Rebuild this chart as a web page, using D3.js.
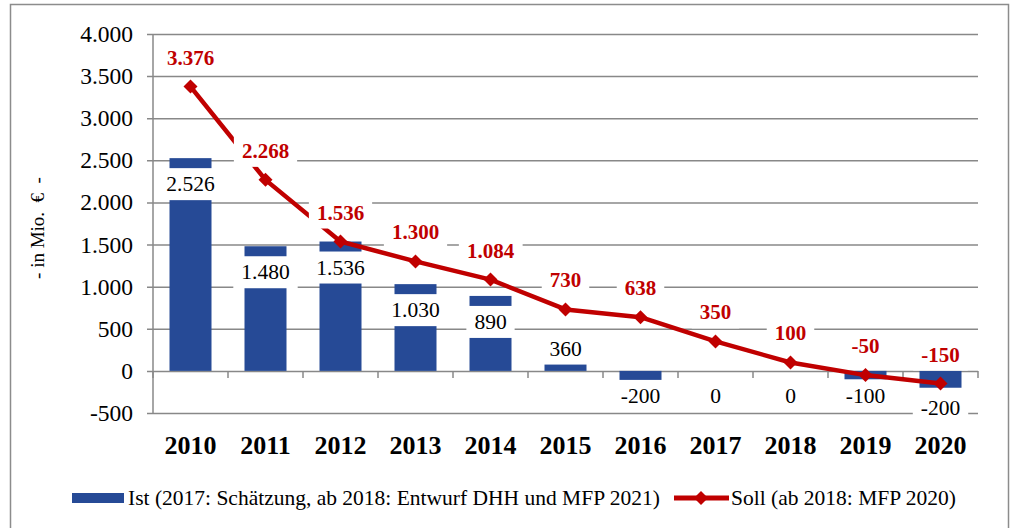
<!DOCTYPE html>
<html>
<head>
<meta charset="utf-8">
<script src="https://cdn.jsdelivr.net/npm/d3@7"></script>
<style>
  body { margin: 0; background: #fff; }
  text { font-family: "Liberation Serif", "Times New Roman", serif; }
</style>
</head>
<body>
<div id="chart"></div>
<script>
// Data
var years = ["2010", "2011", "2012", "2013", "2014", "2015", "2016", "2017", "2018", "2019", "2020"];
var ist = [2526, 1480, 1536, 1030, 890, 360, -200, 0, 0, -100, -200];
var soll = [3376, 2268, 1536, 1300, 1084, 730, 638, 350, 100, -50, -150];
var yTicks = [-500, 0, 500, 1000, 1500, 2000, 2500, 3000, 3500, 4000];
var istName = "Ist (2017: Schätzung, ab 2018: Entwurf DHH und MFP 2021)";
var sollName = "Soll (ab 2018: MFP 2020)";
var yTitle = "- in Mio.  €  -";

var width = 1012;
var height = 528;
var plot = { left: 153, right: 978, top: 34, bottom: 413 };
var blue = "#264a96";
var red = "#c00000";
var grid = "#888888";

var de = d3.formatLocale({ decimal: ",", thousands: ".", grouping: [3], currency: ["", " €"], minus: "-" });
var fmt = de.format(",d");

var svg = d3.select("#chart")
    .append("svg")
    .attr("width", width)
    .attr("height", height);

// Outer frame
svg.append("rect")
    .attr("x", 10.5).attr("y", 4.5)
    .attr("width", 998).attr("height", 560)
    .style("fill", "none")
    .style("stroke", "#8c8c8c")
    .style("stroke-width", 1.5);

// Scales
var x = d3.scaleBand()
    .domain(years)
    .range([plot.left, plot.right])
    .paddingInner(0.44)
    .paddingOuter(0.22);

var y = d3.scaleLinear()
    .domain([-500, 4000])
    .range([plot.bottom, plot.top]);

var cx = function (yr) { return x(yr) + x.bandwidth() / 2; };

// Gridlines + y axis
var yAxis = d3.axisLeft(y)
    .tickValues(yTicks)
    .tickSize(-(plot.right - plot.left))
    .tickPadding(20)
    .tickFormat(fmt);

var gy = svg.append("g")
    .attr("transform", "translate(" + plot.left + ",0)")
    .call(yAxis);
gy.select(".domain").remove();
gy.selectAll(".tick line")
    .attr("x1", -6)
    .style("stroke", grid)
    .style("stroke-width", 1.5);
gy.selectAll(".tick text")
    .style("font-size", "23.5px")
    .style("fill", "#000");

svg.append("line")
    .attr("x1", plot.left).attr("x2", plot.left)
    .attr("y1", plot.top).attr("y2", plot.bottom)
    .style("stroke", grid)
    .style("stroke-width", 1.5);

// x axis on the zero line, ticks between categories
var xTickPos = d3.range(years.length + 1).map(function (i) { return plot.left + i * x.step(); });
svg.append("g").selectAll("line")
    .data(xTickPos)
    .enter()
    .append("line")
    .attr("x1", d => d).attr("x2", d => d)
    .attr("y1", y(0)).attr("y2", y(0) + 7)
    .style("stroke", grid)
    .style("stroke-width", 1.5);

// Bars
svg.append("g").selectAll("rect")
    .data(ist)
    .enter()
    .append("rect")
    .attr("x", (d, i) => x(years[i]))
    .attr("width", x.bandwidth())
    .attr("y", d => y(Math.max(d, 0)))
    .attr("height", d => Math.abs(y(d) - y(0)))
    .style("fill", blue);

// Category labels
svg.append("g").selectAll("text")
    .data(years)
    .enter()
    .append("text")
    .attr("x", d => cx(d))
    .attr("y", 454)
    .attr("text-anchor", "middle")
    .style("font-size", "26px")
    .style("font-weight", "bold")
    .text(d => d);

// label with a white box behind it
function boxLabel(g, tx, ty, str, size, weight, color) {
    var grp = g.append("g");
    var rect = grp.append("rect").style("fill", "#fff");
    var t = grp.append("text")
        .attr("x", tx).attr("y", ty)
        .attr("text-anchor", "middle")
        .attr("dominant-baseline", "central")
        .style("font-size", size + "px")
        .style("font-weight", weight)
        .style("fill", color)
        .text(str);
    var bb = t.node().getBBox();
    rect.attr("x", bb.x - 8).attr("y", ty - 16)
        .attr("width", bb.width + 16).attr("height", 32);
}

// Bar labels (Excel placed them by hand, roughly inside end)
var istNudge = { "2020": 12 };
var barLabels = svg.append("g");
ist.forEach(function (v, i) {
    var ly;
    if (v >= 800) ly = y(v) + 26;
    else if (v > 0) ly = y(v) + 8;
    else ly = y(0) + 25;
    ly += istNudge[years[i]] || 0;
    boxLabel(barLabels, cx(years[i]), ly, fmt(v), 21.5, "normal", "#000");
});

// Soll line
var line = d3.line()
    .x((d, i) => cx(years[i]))
    .y(d => y(d));

svg.append("path")
    .datum(soll)
    .attr("d", line)
    .style("fill", "none")
    .style("stroke", red)
    .style("stroke-width", 4.5)
    .style("stroke-linejoin", "round");

var diamond = "M0,-7L7,0L0,7L-7,0Z";
svg.append("g").selectAll("path")
    .data(soll)
    .enter()
    .append("path")
    .attr("d", diamond)
    .attr("transform", (d, i) => "translate(" + cx(years[i]) + "," + y(d) + ")")
    .style("fill", red);

var lineLabels = svg.append("g");
soll.forEach(function (v, i) {
    boxLabel(lineLabels, cx(years[i]), y(v) - 29, fmt(v), 21, "bold", red);
});

// Y axis title
svg.append("text")
    .attr("transform", "translate(44,228) rotate(-90)")
    .attr("text-anchor", "middle")
    .attr("xml:space", "preserve")
    .style("white-space", "pre")
    .style("font-size", "19px")
    .text(yTitle);

// Legend
svg.append("rect")
    .attr("x", 72).attr("y", 493)
    .attr("width", 52).attr("height", 10)
    .style("fill", blue);
svg.append("text")
    .attr("x", 128).attr("y", 505)
    .style("font-size", "21.5px")
    .text(istName);

svg.append("line")
    .attr("x1", 674).attr("x2", 729)
    .attr("y1", 498).attr("y2", 498)
    .style("stroke", red)
    .style("stroke-width", 5);
svg.append("path")
    .attr("d", diamond)
    .attr("transform", "translate(701,498)")
    .style("fill", red);
svg.append("text")
    .attr("x", 731).attr("y", 505)
    .style("font-size", "21.5px")
    .text(sollName);
</script>
</body>
</html>
